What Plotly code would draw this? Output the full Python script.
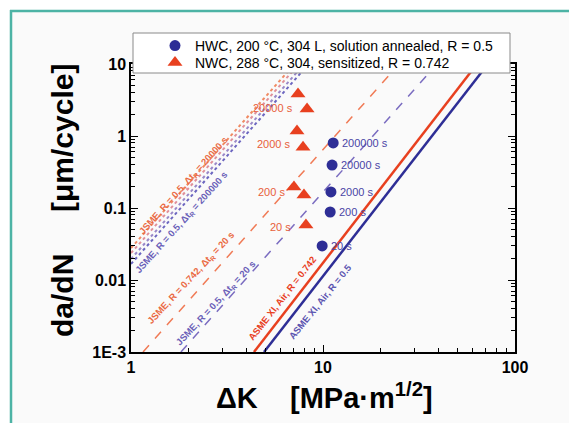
import math
import plotly.graph_objects as go

# ---------------- data ----------------
# HWC, 200 C, 304 L, solution annealed, R = 0.5 (blue circles)
dk_hwc = [9.9, 10.9, 11.0, 11.15, 11.3]
dadn_hwc = [0.0297, 0.088, 0.167, 0.395, 0.80]
hold_hwc = ["20 s", "200 s", "2000 s", "20000 s", "200000 s"]

# NWC, 288 C, 304, sensitized, R = 0.742 (red triangles)
dk_nwc = [7.41, 8.26, 7.32, 7.87, 7.06, 7.96, 8.15]
dadn_nwc = [3.83, 2.37, 1.17, 0.70, 0.196, 0.152, 0.058]
hold_nwc = ["20000 s", "2000 s", "200 s", "20 s"]
hold_nwc_x = [7.15, 6.98, 6.49, 6.98]
hold_nwc_y = [2.45, 0.774, 0.167, 0.0545]

# reference curves: straight lines in log-log, given by end points
curve_dk0 = [4.37, 4.93, 1.155, 1.82, 1.0, 1.0, 1.0, 1.0]
curve_da0 = [1e-3, 1e-3, 1e-3, 1e-3, 0.0278, 0.0237, 0.0196, 0.0167]
curve_dk1 = [63.4, 72.3, 24.9, 39.2, 7.11, 7.50, 7.99, 8.43]
curve_da1 = [10, 10, 10, 10, 10, 10, 10, 10]

# curve labels
curve_labels = [
    "ASME XI, Air, R = 0.742",
    "ASME XI, Air, R = 0.5",
    "JSME, R = 0.742, Δt<sub>R</sub> = 20 s",
    "JSME, R = 0.5, Δt<sub>R</sub> = 20 s",
    "JSME, R = 0.5, Δt<sub>R</sub> = 20000 s",
    "JSME, R = 0.5, Δt<sub>R</sub> = 200000 s",
]
label_x = [6.12, 9.64, 2.05, 2.77, 1.87, 1.84]
label_y = [0.00545, 0.0051, 0.01066, 0.0048, 0.202, 0.064]

x_ticks = [1, 10, 100]
x_ticktext = ["1", "10", "100"]
y_ticks = [1e-3, 0.01, 0.1, 1, 10]
y_ticktext = ["1E-3", "0.01", "0.1", "1", "10"]

# ---------------- styles ----------------
RED = "#e8401f"
BLUE = "#2e2e96"
curve_color = [RED, BLUE, "#f07a55", "#7a6cc0", "#f08a62", "#e0909a", "#9a88c8", "#6c66c0"]
curve_dash = ["solid", "solid", "dash", "dash", "dot", "dot", "dot", "dot"]
curve_width = [2.5, 2.5, 1.5, 1.5, 2, 2, 2, 2]
label_color = [RED, "#5a54b0", "#ea6a44", "#6a5fb8", "#ea6a44", "#6a5fb8"]
label_angle = [-52, -51, -47, -47, -48, -48]

FONT = "Arial, Liberation Sans, sans-serif"

W, H = 569, 423
L, R, T, B = 131, 54, 64, 71
pw, ph = W - L - R, H - T - B


def px(xp):
    return (xp - L) / pw


def py(yp):
    return (H - B - yp) / ph


fig = go.Figure()

for i in range(len(curve_dk0)):
    fig.add_trace(go.Scatter(
        x=[curve_dk0[i], curve_dk1[i]], y=[curve_da0[i], curve_da1[i]],
        mode="lines", showlegend=False, hoverinfo="skip",
        line=dict(color=curve_color[i], dash=curve_dash[i], width=curve_width[i]),
    ))

fig.add_trace(go.Scatter(
    x=dk_hwc, y=dadn_hwc, mode="markers",
    name="HWC, 200 °C, 304 L, solution annealed, R = 0.5",
    marker=dict(symbol="circle", size=11, color=BLUE), legend="legend",
))
fig.add_trace(go.Scatter(
    x=dk_nwc, y=dadn_nwc, mode="markers",
    name="NWC, 288 °C, 304, sensitized, R = 0.742",
    marker=dict(symbol="triangle-up", size=13, color=RED), legend="legend2",
))

ann = []
for xv, yv, t in zip(dk_hwc, dadn_hwc, hold_hwc):
    ann.append(dict(x=math.log10(xv), y=math.log10(yv), xref="x", yref="y",
                    text=t, showarrow=False, xanchor="left", yanchor="middle",
                    xshift=7, font=dict(family=FONT, size=11, color="#4a44a6")))
for xv, yv, t in zip(hold_nwc_x, hold_nwc_y, hold_nwc):
    ann.append(dict(x=math.log10(xv), y=math.log10(yv), xref="x", yref="y",
                    text=t, showarrow=False, xanchor="right", yanchor="middle",
                    font=dict(family=FONT, size=11, color="#e8603a")))
for xv, yv, t, c, a in zip(label_x, label_y, curve_labels, label_color, label_angle):
    ann.append(dict(x=math.log10(xv), y=math.log10(yv), xref="x", yref="y", text=t,
                    showarrow=False, textangle=a, xanchor="center", yanchor="middle",
                    font=dict(family=FONT, size=9.5, color=c, weight="bold")))

# axis titles
ann.append(dict(x=px(62), y=py(201), xref="paper", yref="paper",
                xanchor="center", yanchor="middle",
                text="da/dN     [μm/cycle]", textangle=-90, showarrow=False,
                font=dict(family=FONT, size=30, color="black", weight="bold")))
ann.append(dict(x=px(324), y=py(396), xref="paper", yref="paper",
                xanchor="center", yanchor="middle",
                text="ΔK    [MPa·m<sup>1/2</sup>]", showarrow=False,
                font=dict(family=FONT, size=29, color="black", weight="bold")))

shapes = [
    dict(type="rect", xref="paper", yref="paper", x0=px(11), x1=px(600), y0=py(450), y1=py(11),
         fillcolor="#fafafa", line=dict(width=0), layer="below"),
    dict(type="line", xref="paper", yref="paper", x0=px(11), x1=px(11), y0=py(450), y1=py(10),
         line=dict(color="#4db3a5", width=2.5), layer="above"),
    dict(type="line", xref="paper", yref="paper", x0=px(10), x1=px(600), y0=py(11), y1=py(11),
         line=dict(color="#4db3a5", width=2.5), layer="above"),
    dict(type="rect", xref="paper", yref="paper", x0=px(133), x1=px(510), y0=py(73), y1=py(33),
         fillcolor="white", line=dict(color="#8a8a8a", width=1), layer="above"),
]

minor_x = [m * 10 ** e for e in range(0, 2) for m in range(2, 10)]
minor_y = [m * 10.0 ** e for e in range(-3, 1) for m in range(2, 10)]

axis_common = dict(
    type="log", showgrid=False, zeroline=False, showline=True, linecolor="black",
    linewidth=1.5, mirror="ticks", ticks="inside", ticklen=7, tickwidth=1.3,
    tickcolor="black", tickmode="array",
    tickfont=dict(family=FONT, size=16, color="black", weight="bold"),
)

legend_common = dict(xanchor="left", yanchor="middle", bgcolor="rgba(0,0,0,0)",
                     borderwidth=0, font=dict(family=FONT, size=14, color="black"),
                     itemsizing="trace")

fig.update_layout(
    width=W, height=H,
    margin=dict(l=L, r=R, t=T, b=B),
    paper_bgcolor="white", plot_bgcolor="white",
    xaxis=dict(range=[0, 2], tickvals=x_ticks, ticktext=x_ticktext,
               minor=dict(tickmode="array", tickvals=minor_x, ticks="inside", ticklen=4,
                          tickcolor="black", tickwidth=1, showgrid=False),
               **axis_common),
    yaxis=dict(range=[-3, 1], tickvals=y_ticks, ticktext=y_ticktext,
               minor=dict(tickmode="array", tickvals=minor_y, ticks="inside", ticklen=4,
                          tickcolor="black", tickwidth=1, showgrid=False),
               **axis_common),
    legend=dict(x=px(155), y=py(46), **legend_common),
    legend2=dict(x=px(155), y=py(63), **legend_common),
    annotations=ann,
    shapes=shapes,
)

fig.write_html("out.html")
